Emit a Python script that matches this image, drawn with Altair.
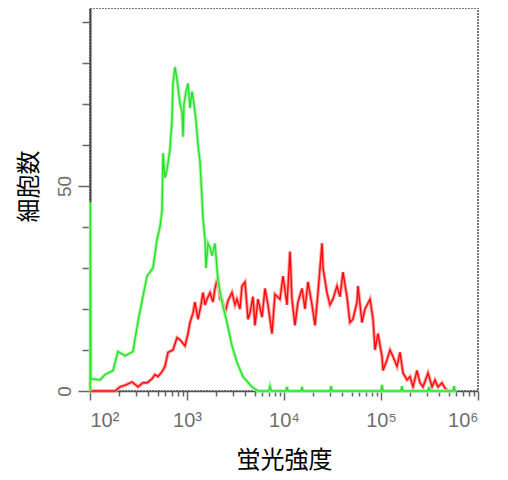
import altair as alt
import pandas as pd

# Green histogram (fluorescence intensity, cell count)
green_intensity = [100.5, 101, 102, 127, 143, 173, 194, 230, 277, 313, 344, 387, 446, 491,
                   527, 553, 566, 593, 622, 668, 700, 717, 752, 789, 847, 888, 910, 931,
                   977, 1024, 1074, 1127, 1180, 1238, 1298, 1361, 1428, 1462, 1534, 1570,
                   1646, 1726, 1810, 1943, 2038, 2088, 2295, 2585, 2910, 3275, 3776, 4677,
                   5395, 6950, 7178, 7400, 10500, 10740, 11000, 15000, 15340, 15700,
                   29800, 30550, 31300, 100000, 102400, 105000, 160000, 164400, 168000,
                   305000, 312600, 320000, 552000, 566000, 580000, 600000]
green_count = [0, 46, 3, 2.7, 4, 5, 9.6, 8.6, 9.6, 17, 22, 28, 30, 37,
               40, 44, 58, 52, 54, 59, 66, 75, 79, 76, 70, 68, 62, 70,
               73, 75, 69, 73, 70, 66, 60, 56, 47, 42, 37, 30,
               36, 35, 33, 36, 30, 27, 21.7, 16.7, 11, 7, 3.5, 1,
               0, 0, 1.2, 0, 0, 1, 0, 0, 1, 0,
               0, 1.2, 0, 0, 1.5, 0, 0, 1.2, 0,
               0, 1, 0, 0, 1.2, 0, 0]

# Red histogram
red_intensity = [100.5, 102, 181, 204, 235, 271, 313, 352, 387, 436, 468, 502, 553, 593,
                 637, 717, 789, 847, 954, 1024, 1074, 1153, 1208, 1298, 1394, 1462, 1534,
                 1607, 1726, 1852, 1943, 2088, 2188, 2295, 2464, 2646, 2910, 3125, 3275,
                 3516, 3690, 3963, 4255, 4460, 4786, 5020, 5395, 5933, 6368, 6836, 7516,
                 8070, 9091, 9772, 10740, 11530, 12080, 12970, 13930, 15340, 16460, 17670,
                 19440, 20870, 22410, 24660, 25240, 27740, 29780, 31970, 35170, 37760,
                 40550, 44560, 47840, 51380, 56580, 57940, 63680, 68370, 77090, 82770,
                 86700, 93100, 102400, 104900, 115300, 123800, 133000, 146200, 157000,
                 168600, 185400, 199100, 213800, 235000, 252400, 271000, 305300, 335600,
                 360400, 387000, 425300, 456800, 490600]
red_count = [2, 0, 0, 1, 1.5, 2.2, 1, 2, 2, 3, 4, 3.5, 4.7, 6,
             9.4, 10, 13, 12.5, 11, 14, 16.7, 19, 21.7, 17.5, 21, 24, 21,
             22.4, 24, 21.7, 25, 28, 22.4, 22.4, 19, 22, 24, 21, 22.4,
             20, 25.6, 26.6, 17.5, 19, 23, 16, 22.4, 18, 25, 21, 14,
             23.6, 22.4, 28, 21, 34, 22.4, 16, 21.7, 25, 20, 26.6,
             21, 16, 24, 36, 30, 24, 21, 22.4, 25.6, 23,
             29, 23, 16.7, 17.5, 21.7, 25.6, 16.7, 20, 22.4, 17.5,
             10, 14, 8.4, 5, 7.6, 10, 8.4, 6, 9.4,
             4.4, 2.7, 3.5, 1, 5, 2, 1, 4.4, 1,
             2.7, 1, 2, 0.7, 0]

x_tick_values = [100, 200, 300, 400, 500, 600, 700, 800, 900,
                 1000, 2000, 3000, 4000, 5000, 6000, 7000, 8000, 9000,
                 10000, 20000, 30000, 40000, 50000, 60000, 70000, 80000, 90000,
                 100000, 200000, 300000, 400000, 500000, 600000, 700000, 800000, 900000,
                 1000000]
x_decades = [100, 1000, 10000, 100000, 1000000]
x_decade_labels = ["10²", "10³", "10⁴", "10⁵", "10⁶"]
y_tick_values = [0, 10, 20, 30, 40, 50, 60, 70, 80, 90]
y_labeled = [0, 50]

rows = []
for i, (xv, yv) in enumerate(zip(red_intensity, red_count)):
    rows.append({"series": "red", "intensity": xv, "count": yv, "idx": i})
for i, (xv, yv) in enumerate(zip(green_intensity, green_count)):
    rows.append({"series": "green", "intensity": xv, "count": yv, "idx": i})
df = pd.DataFrame(rows)

x_label_expr = "".join(
    f"datum.value == {v} ? '{lab}' : " for v, lab in zip(x_decades, x_decade_labels)
) + "''"
dec_list = "[" + ",".join(str(v) for v in x_decades) + "]"
ylab_list = "[" + ",".join(str(v) for v in y_labeled) + "]"

x_axis = alt.Axis(
    values=x_tick_values,
    labelExpr=x_label_expr,
    labelOverlap=False,
    labelBound=False,
    labelFont="Liberation Sans",
    labelFontSize=20,
    labelColor="#6e6e6e",
    labelPadding=10,
    tickSize={"condition": {"test": f"indexof({dec_list}, datum.value) >= 0", "value": 9}, "value": 5},
    tickColor="#666666",
    tickWidth=1.5,
    domainColor="#555555",
    domainWidth=1.5,
    grid=False,
    title="蛍光強度",
    titleFont="Noto Sans CJK JP",
    titleFontSize=24,
    titleFontWeight="normal",
    titleColor="#000000",
    titleBaseline="middle",
    titleX=194,
    titleY=69,
)

y_axis = alt.Axis(
    values=y_tick_values,
    labelExpr=f"indexof({ylab_list}, datum.value) >= 0 ? datum.label : ''",
    labelOverlap=False,
    labelBound=False,
    labelAngle=270,
    labelAlign="center",
    labelBaseline="alphabetic",
    labelFont="Liberation Sans",
    labelFontSize=19,
    labelColor="#6e6e6e",
    labelPadding=8,
    tickSize={"condition": {"test": f"indexof({ylab_list}, datum.value) >= 0", "value": 12}, "value": 8},
    tickColor="#666666",
    tickWidth=1.5,
    domainColor="#444444",
    domainWidth=2,
    grid=False,
    title="細胞数",
    titleFont="Noto Sans CJK JP",
    titleFontSize=24,
    titleFontWeight="normal",
    titleColor="#000000",
    titleAngle=270,
    titleAlign="center",
    titleBaseline="middle",
    titleX=-61,
    titleY=178,
)

base = alt.Chart(df).encode(
    x=alt.X("intensity:Q", scale=alt.Scale(type="log", domain=[100, 1000000], nice=False), axis=x_axis),
    y=alt.Y("count:Q", scale=alt.Scale(domain=[0, 93.4], nice=False, zero=True), axis=y_axis),
    order=alt.Order("idx:Q"),
)

red_halo = base.transform_filter("datum.series == 'red'").mark_line(color="#ff9c9c", strokeWidth=3.4)
red_core = base.transform_filter("datum.series == 'red'").mark_line(color="#ff0a0a", strokeWidth=1.4)
green_halo = base.transform_filter("datum.series == 'green'").mark_line(color="#a6f7a6", strokeWidth=3.4)
green_core = base.transform_filter("datum.series == 'green'").mark_line(color="#28e028", strokeWidth=1.4)

chart = alt.layer(red_halo, red_core, green_halo, green_core).properties(
    width=388,
    height=383,
    autosize=alt.AutoSizeParams(type="none"),
    padding={"left": 82, "top": 0, "right": 22, "bottom": 89},
).configure_view(
    stroke="#7a7a7a",
    strokeWidth=2,
    strokeDash=[2, 1],
)

chart.save("out.html", embed_options={"renderer": "svg", "actions": False})
